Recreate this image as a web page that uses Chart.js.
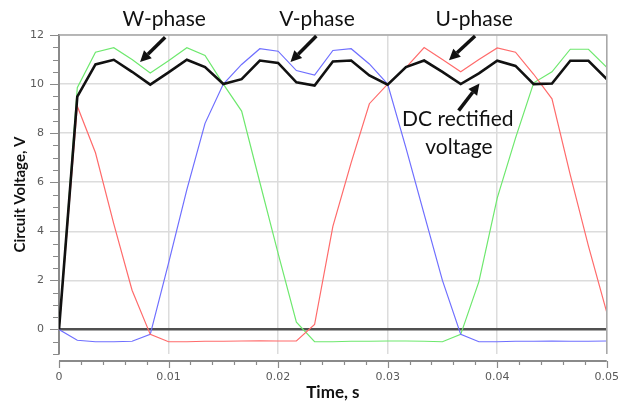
<!DOCTYPE html>
<html>
<head>
<meta charset="utf-8">
<script src="https://cdn.jsdelivr.net/npm/chart.js@4.4.1/dist/chart.umd.min.js"></script>
<style>
  html, body { margin: 0; padding: 0; background: #fff; }
</style>
</head>
<body>
<canvas id="grafico" width="636" height="406"></canvas>
<script>
// tiempos de muestreo (s)
const tiempos = [0, 0.00167, 0.00333, 0.005, 0.00667, 0.00833, 0.01, 0.01167, 0.01333, 0.015,
    0.01667, 0.01833, 0.02, 0.02167, 0.02333, 0.025, 0.02667, 0.02833, 0.03, 0.03167,
    0.03333, 0.035, 0.03667, 0.03833, 0.04, 0.04167, 0.04333, 0.045, 0.04667, 0.04833, 0.05];

const tensionDC = [0, 9.49, 10.8, 10.99, 10.5, 9.98, 10.48, 10.99, 10.69, 10.0,
    10.2, 10.96, 10.86, 10.07, 9.94, 10.92, 10.96, 10.35, 9.98, 10.69,
    10.96, 10.5, 10.0, 10.44, 10.95, 10.74, 10.0, 10.02, 10.95, 10.95, 10.2];

const faseU = [0, 9.1, 7.2, 4.3, 1.6, -0.2, -0.5, -0.5, -0.48, -0.48,
    -0.47, -0.46, -0.47, -0.47, 0.2, 4.2, 6.8, 9.2, 10.0, 10.67,
    11.49, 11.0, 10.5, 11.0, 11.47, 11.3, 10.4, 9.4, 6.3, 3.4, 0.7];

const faseV = [0, -0.44, -0.5, -0.5, -0.48, -0.2, 2.7, 5.7, 8.4, 10.0,
    10.8, 11.44, 11.34, 10.55, 10.37, 11.37, 11.44, 10.82, 10.0, 7.4,
    4.7, 2.0, -0.2, -0.5, -0.5, -0.48, -0.48, -0.47, -0.48, -0.48, -0.47];

const faseW = [0, 9.85, 11.3, 11.48, 11.0, 10.45, 10.95, 11.48, 11.17, 10.0,
    8.9, 6.0, 3.1, 0.3, -0.5, -0.5, -0.48, -0.48, -0.47, -0.47,
    -0.48, -0.5, -0.2, 1.95, 5.35, 7.8, 10.05, 10.5, 11.42, 11.42, 10.68];

// etiquetas con flecha, en unidades de datos [t, V]
const textos = ['W-phase', 'V-phase', 'U-phase', 'DC rectified', 'voltage'];
const posTextos = [[0.0096, 12.37], [0.02355, 12.37], [0.0379, 12.37], [0.03641, 8.28], [0.0365, 7.17]];
const flechas = [
    [[0.00969, 11.91], [0.0074, 10.9]],
    [[0.02349, 11.96], [0.02113, 10.9]],
    [[0.03798, 11.96], [0.0356, 10.97]],
    [[0.03648, 8.92], [0.03838, 10.02]]
];

function serie(valores) {
    return valores.map(function (v, i) { return { x: tiempos[i], y: v }; });
}

const anotaciones = {
    id: 'anotaciones',
    afterDatasetsDraw(chart) {
        const ctx = chart.ctx;
        const area = chart.chartArea;
        const x = chart.scales.x;
        const y = chart.scales.y;
        ctx.save();

        // marco superior y derecho
        ctx.strokeStyle = '#a8a8a8';
        ctx.lineWidth = 1.5;
        ctx.beginPath();
        ctx.moveTo(area.left, area.top);
        ctx.lineTo(area.right, area.top);
        ctx.lineTo(area.right, area.bottom);
        ctx.stroke();

        // eje x separado del area
        const ejeY = area.bottom + 7;
        ctx.strokeStyle = '#8a8a8a';
        ctx.lineWidth = 2;
        ctx.beginPath();
        ctx.moveTo(area.left, ejeY);
        ctx.lineTo(area.right, ejeY);
        ctx.stroke();
        ctx.lineWidth = 1.2;
        ctx.beginPath();
        for (let i = 0; i <= 25; i++) {
            const px = Math.round(x.getPixelForValue(i * 0.002)) + 0.5;
            ctx.moveTo(px, ejeY);
            ctx.lineTo(px, ejeY + (i % 5 === 0 ? 7 : 4));
        }
        // marcas del eje y
        for (let i = 0; i <= 26; i++) {
            const v = -1 + i * 0.5;
            const py = Math.round(y.getPixelForValue(v)) + 0.5;
            ctx.moveTo(area.left - (v % 2 === 0 ? 9 : 6), py);
            ctx.lineTo(area.left, py);
        }
        ctx.stroke();

        // flechas
        ctx.strokeStyle = '#111';
        ctx.fillStyle = '#111';
        flechas.forEach(function (f) {
            const x0 = x.getPixelForValue(f[0][0]), y0 = y.getPixelForValue(f[0][1]);
            const x1 = x.getPixelForValue(f[1][0]), y1 = y.getPixelForValue(f[1][1]);
            const ang = Math.atan2(y1 - y0, x1 - x0);
            const largo = 11, ancho = 5.5;
            const bx = x1 - largo * Math.cos(ang), by = y1 - largo * Math.sin(ang);
            ctx.lineWidth = 3.5;
            ctx.beginPath();
            ctx.moveTo(x0, y0);
            ctx.lineTo(bx, by);
            ctx.stroke();
            ctx.beginPath();
            ctx.moveTo(x1, y1);
            ctx.lineTo(bx + ancho * Math.sin(ang), by - ancho * Math.cos(ang));
            ctx.lineTo(bx - ancho * Math.sin(ang), by + ancho * Math.cos(ang));
            ctx.closePath();
            ctx.fill();
        });

        // textos
        ctx.font = '21px Lato';
        ctx.textAlign = 'center';
        ctx.textBaseline = 'alphabetic';
        textos.forEach(function (t, i) {
            ctx.fillText(t, x.getPixelForValue(posTextos[i][0]), y.getPixelForValue(posTextos[i][1]));
        });
        ctx.restore();
    }
};

new Chart(document.getElementById('grafico'), {
    type: 'line',
    data: {
        datasets: [
            { label: 'DC', data: serie(tensionDC), borderColor: '#111111', borderWidth: 2.6 },
            { label: 'U', data: serie(faseU), borderColor: '#ff6b6b', borderWidth: 1.2 },
            { label: 'V', data: serie(faseV), borderColor: '#6f6fff', borderWidth: 1.2 },
            { label: 'W', data: serie(faseW), borderColor: '#6ee86e', borderWidth: 1.2 }
        ]
    },
    options: {
        responsive: false,
        animation: false,
        layout: { padding: { top: 35, right: 25, left: 0, bottom: 0 } },
        elements: {
            point: { radius: 0 },
            line: { tension: 0, borderJoinStyle: 'miter' }
        },
        plugins: {
            legend: { display: false },
            tooltip: { enabled: false }
        },
        scales: {
            x: {
                type: 'linear',
                min: 0,
                max: 0.05,
                afterFit: function (s) { s.height = 52; },
                border: { display: false },
                grid: {
                    drawTicks: false,
                    color: function (c) { return c.tick.value === 0 ? 'rgba(0,0,0,0)' : '#dcdcdc'; },
                    lineWidth: 1.5
                },
                ticks: {
                    stepSize: 0.01,
                    padding: 17,
                    color: '#5a5a5a',
                    font: { family: 'DejaVu Sans', size: 11 },
                    callback: function (v) { return String(Number(v.toFixed(3))); }
                },
                title: {
                    display: true,
                    text: 'Time, s',
                    color: '#111',
                    font: { family: 'Lato', size: 17, weight: 'bold' },
                    padding: { top: 0, bottom: 3 }
                }
            },
            y: {
                min: -1,
                max: 12,
                afterFit: function (s) { s.width = 59; },
                border: { display: true, color: '#8a8a8a', width: 2 },
                grid: {
                    drawTicks: false,
                    color: function (c) {
                        const v = c.tick.value;
                        if (v === 0) return '#505050';
                        return (v % 2 === 0) ? '#dcdcdc' : 'rgba(0,0,0,0)';
                    },
                    lineWidth: function (c) { return c.tick.value === 0 ? 2.5 : 1.5; }
                },
                ticks: {
                    stepSize: 0.5,
                    autoSkip: false,
                    padding: 15,
                    color: '#5a5a5a',
                    font: { family: 'DejaVu Sans', size: 11 },
                    callback: function (v) { return (v % 2 === 0 && v >= 0) ? String(v) : ''; }
                },
                title: {
                    display: true,
                    text: 'Circuit Voltage, V',
                    color: '#111',
                    font: { family: 'Lato', size: 15, weight: 'bold' },
                    padding: { top: 11, bottom: 0 }
                }
            }
        }
    },
    plugins: [anotaciones]
});
</script>
</body>
</html>
